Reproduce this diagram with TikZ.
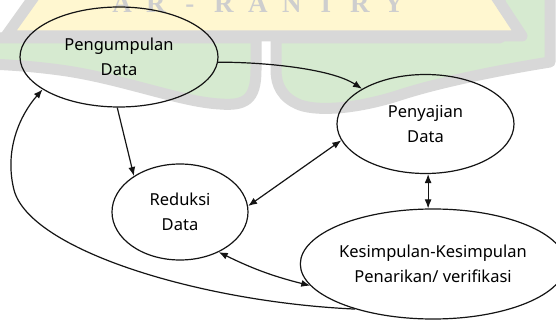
\documentclass[tikz,border=0pt]{standalone}
\usepackage{fontspec}
\setmainfont{Noto Sans}
\newfontfamily\wmfont{Liberation Serif}
\usetikzlibrary{arrows.meta,shapes.geometric}
\definecolor{wmyellow}{RGB}{255,247,208}
\definecolor{wmgray}{RGB}{216,216,216}
\definecolor{wmgreen}{RGB}{214,234,208}
\definecolor{wmtext}{RGB}{206,206,206}
\definecolor{ink}{RGB}{20,20,20}
\tikzset{
  ell/.style={ellipse, draw=ink, line width=1.2pt, inner sep=0pt, align=center,
    font=\fontsize{16.5}{25}\selectfont},
  arr/.style={draw=ink, line width=1.2pt, -{Latex[length=9pt,width=7pt]}},
  darr/.style={draw=ink, line width=1.2pt, {Latex[length=9pt,width=7pt]}-{Latex[length=9pt,width=7pt]}},
  wmband/.style={draw=wmgray, line width=11pt, line join=round},
}
\newcommand{\wmletter}[1]{\makebox[34pt]{#1}}
\begin{document}
\begin{tikzpicture}[x=1pt,y=-1pt]
\useasboundingbox (0,0) rectangle (556,320);
\fill[white] (0,0) rectangle (556,320);
% watermark
\begin{scope}
\clip (0,0) rectangle (556,320);
\filldraw[wmband, fill=wmgreen] (-10,38) -- (256,38) -- (256,70)
  .. controls (256,100) and (245,106) .. (220,104)
  .. controls (180,102) and (120,78) .. (60,70)
  .. controls (30,66) and (10,65) .. (-10,64) -- cycle;
\filldraw[wmband, fill=wmgreen] (276,38) -- (500,38) -- (500,-20) -- (550,-20) -- (550,62)
  .. controls (500,70) and (440,82) .. (400,95)
  .. controls (360,108) and (320,112) .. (300,105)
  .. controls (282,98) and (276,85) .. (276,70) -- cycle;
\filldraw[wmband, fill=wmyellow] (46,-20) -- (485,-20) -- (522,36) -- (6,36) -- cycle;
\node[anchor=base, text=wmtext, font=\wmfont\bfseries\fontsize{27}{27}\selectfont, inner sep=0pt]
  (wm) at (258,13) {\wmletter{A}\wmletter{R}\wmletter{-}\wmletter{R}\wmletter{A}\wmletter{N}\wmletter{I}\wmletter{R}\wmletter{Y}};
\end{scope}
% nodes
\node[ell, minimum width=198pt, minimum height=100pt] (peng) at (119,57) {Pengumpulan\\Data};
\node[ell, minimum width=177pt, minimum height=99pt] (peny) at (425.5,124) {Penyajian\\Data};
\node[ell, minimum width=136pt, minimum height=96pt] (red) at (180,212) {Reduksi\\Data};
\node[ell, minimum width=264pt, minimum height=110pt] (kes) at (433,264) {Kesimpulan-Kesimpulan\\Penarikan/ verifikasi};
% connectors
\draw[arr] (peng.-3) .. controls (260,62) and (330,68) .. (peny.151);
\draw[arr] (peng.-92) -- (red.142);
\draw[darr] (red.5) -- (peny.-169);
\draw[darr] (peny.-87) -- (peny.-87 |- kes.north);
\draw[darr] (red.-46) to[bend right=6] (kes.-170);
\draw[arr] (kes.210) .. controls (200,302) and (30,250) .. (14,190)
  .. controls (4,150) and (20,115) .. (peng.203);
\end{tikzpicture}
\end{document}
